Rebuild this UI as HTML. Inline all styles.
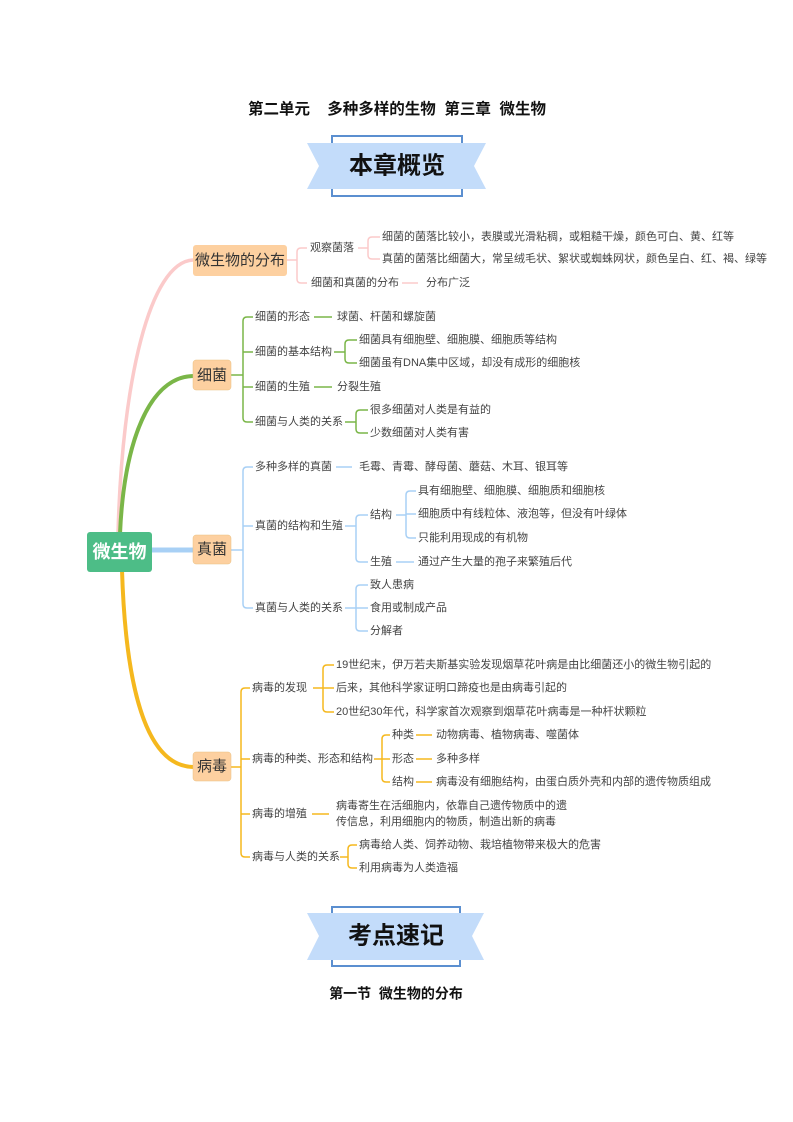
<!DOCTYPE html>
<html><head><meta charset="utf-8"><style>
html,body{margin:0;padding:0;background:#fff;}
svg{display:block;}
text{font-family:"Liberation Sans","Noto Sans CJK SC",sans-serif;white-space:pre;}
.t{font-size:11px;fill:#444;dominant-baseline:middle;}
.n{font-size:15px;fill:#333;dominant-baseline:middle;text-anchor:middle;}
</style></head><body>
<svg width="793" height="1122" viewBox="0 0 793 1122" xmlns="http://www.w3.org/2000/svg" xml:space="preserve">
<text x="397" y="110" text-anchor="middle" dominant-baseline="middle" style="font-size:15.5px;font-weight:bold;fill:#111">第二单元    多种多样的生物  第三章  微生物</text>
<!-- banner 1 -->
<rect x="332" y="136" width="130" height="60" fill="#fff" stroke="#5b8fd0" stroke-width="2"/>
<polygon points="307,143 486,143 474,166 486,189 307,189 319,166" fill="#c3dcfa"/>
<text x="397" y="167" text-anchor="middle" dominant-baseline="middle" style="font-size:24px;font-weight:bold;fill:#111">本章概览</text>
<!-- banner 2 -->
<rect x="332" y="907" width="128" height="59" fill="#fff" stroke="#5b8fd0" stroke-width="2"/>
<polygon points="307,913 484,913 472,936 484,960 307,960 319,936" fill="#c3dcfa"/>
<text x="396" y="937" text-anchor="middle" dominant-baseline="middle" style="font-size:24px;font-weight:bold;fill:#111">考点速记</text>
<text x="396" y="995" text-anchor="middle" dominant-baseline="middle" style="font-size:14px;font-weight:bold;fill:#111">第一节  微生物的分布</text>

<!-- root curves -->
<g fill="none">
<path d="M118 534 C122 380 150 262 193 260" stroke="#fbcaca" stroke-width="3.5"/>
<path d="M120 534 C124 440 150 377 193 376" stroke="#7ab648" stroke-width="4"/>
<path d="M150 550 H194" stroke="#a8d0f5" stroke-width="5"/>
<path d="M122 570 C126 700 150 766 193 767" stroke="#f5b81e" stroke-width="4"/>
</g>
<!-- root -->
<rect x="87" y="532" width="65" height="40" rx="3" fill="#4dbd87"/>
<text x="119.5" y="553" text-anchor="middle" dominant-baseline="middle" style="font-size:18px;font-weight:bold;fill:#fff">微生物</text>

<!-- pink group -->
<g fill="none" stroke="#fbcaca" stroke-width="1.5">
<path d="M287 260 H297 M297 260 V252 Q297 248 301 248 H307 M297 260 V279 Q297 283 301 283 H307"/>
<path d="M358 248 H368 M368 248 V241 Q368 237 372 237 H380 M368 248 V255 Q368 259 372 259 H380"/>
<path d="M402 283 H418"/>
</g>
<rect x="193" y="245" width="94" height="31" rx="3" fill="#fdd0a0"/>
<text class="n" x="240" y="261">微生物的分布</text>
<text class="t" x="310" y="248">观察菌落</text>
<text class="t" x="382" y="237">细菌的菌落比较小，表膜或光滑粘稠，或粗糙干燥，颜色可白、黄、红等</text>
<text class="t" x="382" y="259">真菌的菌落比细菌大，常呈绒毛状、絮状或蜘蛛网状，颜色呈白、红、褐、绿等</text>
<text class="t" x="311" y="283">细菌和真菌的分布</text>
<text class="t" x="426" y="283">分布广泛</text>

<!-- green group -->
<g fill="none" stroke="#7ab648" stroke-width="1.5">
<path d="M231 375 H243 M243 375 V321 Q243 317 247 317 H253 M243 375 V418 Q243 422 247 422 H253 M243 352 H253 M243 387 H253"/>
<path d="M314 317 H332 M314 387 H332"/>
<path d="M334 352 H345 M345 352 V344 Q345 340 349 340 H357 M345 352 V359 Q345 363 349 363 H357"/>
<path d="M345 422 H356 M356 422 V414 Q356 410 360 410 H368 M356 422 V429 Q356 433 360 433 H368"/>
</g>
<rect x="193" y="360" width="38" height="30" rx="3" fill="#fdd0a0" stroke="#e8c080" stroke-width="0.5"/>
<text class="n" x="212" y="376">细菌</text>
<text class="t" x="255" y="317">细菌的形态</text>
<text class="t" x="337" y="317">球菌、杆菌和螺旋菌</text>
<text class="t" x="255" y="352">细菌的基本结构</text>
<text class="t" x="359" y="340">细菌具有细胞壁、细胞膜、细胞质等结构</text>
<text class="t" x="359" y="363">细菌虽有DNA集中区域，却没有成形的细胞核</text>
<text class="t" x="255" y="387">细菌的生殖</text>
<text class="t" x="337" y="387">分裂生殖</text>
<text class="t" x="255" y="422">细菌与人类的关系</text>
<text class="t" x="370" y="410">很多细菌对人类是有益的</text>
<text class="t" x="370" y="433">少数细菌对人类有害</text>

<!-- blue group -->
<g fill="none" stroke="#a8d0f5" stroke-width="1.5">
<path d="M231 550 H243 M243 550 V471 Q243 467 247 467 H253 M243 550 V604 Q243 608 247 608 H253 M243 526 H253"/>
<path d="M336 467 H352"/>
<path d="M345 526 H356 M356 526 V519 Q356 515 360 515 H368 M356 526 V558 Q356 562 360 562 H368"/>
<path d="M396 515 H406 M406 515 V495 Q406 491 410 491 H416 M406 515 V534 Q406 538 410 538 H416 M406 514 H416"/>
<path d="M396 562 H414"/>
<path d="M345 608 H356 M356 608 V589 Q356 585 360 585 H368 M356 608 V627 Q356 631 360 631 H368 M356 608 H368"/>
</g>
<rect x="193" y="535" width="38" height="29" rx="3" fill="#fdd0a0" stroke="#e8c080" stroke-width="0.5"/>
<text class="n" x="212" y="550">真菌</text>
<text class="t" x="255" y="467">多种多样的真菌</text>
<text class="t" x="359" y="467">毛霉、青霉、酵母菌、蘑菇、木耳、银耳等</text>
<text class="t" x="255" y="526">真菌的结构和生殖</text>
<text class="t" x="370" y="515">结构</text>
<text class="t" x="418" y="491">具有细胞壁、细胞膜、细胞质和细胞核</text>
<text class="t" x="418" y="514">细胞质中有线粒体、液泡等，但没有叶绿体</text>
<text class="t" x="418" y="538">只能利用现成的有机物</text>
<text class="t" x="370" y="562">生殖</text>
<text class="t" x="418" y="562">通过产生大量的孢子来繁殖后代</text>
<text class="t" x="255" y="608">真菌与人类的关系</text>
<text class="t" x="370" y="585">致人患病</text>
<text class="t" x="370" y="608">食用或制成产品</text>
<text class="t" x="370" y="631">分解者</text>

<!-- yellow group -->
<g fill="none" stroke="#f5b81e" stroke-width="1.5">
<path d="M231 767 H241 M241 767 V692 Q241 688 245 688 H250 M241 767 V853 Q241 857 245 857 H250 M241 759 H250 M241 814 H250"/>
<path d="M313 688 H323 M323 688 V669 Q323 665 327 665 H334 M323 688 V708 Q323 712 327 712 H334 M323 688 H334"/>
<path d="M374 759 H382 M382 759 V739 Q382 735 386 735 H390 M382 759 V778 Q382 782 386 782 H390 M382 759 H390"/>
<path d="M416 735 H432 M416 759 H432 M416 782 H432"/>
<path d="M312 814 H329"/>
<path d="M340 857 H348 M348 857 V849 Q348 845 352 845 H357 M348 857 V864 Q348 868 352 868 H357"/>
</g>
<rect x="193" y="752" width="38" height="29" rx="3" fill="#fdd0a0" stroke="#e8c080" stroke-width="0.5"/>
<text class="n" x="212" y="767">病毒</text>
<text class="t" x="252" y="688">病毒的发现</text>
<text class="t" x="336" y="665">19世纪末，伊万若夫斯基实验发现烟草花叶病是由比细菌还小的微生物引起的</text>
<text class="t" x="336" y="688">后来，其他科学家证明口蹄疫也是由病毒引起的</text>
<text class="t" x="336" y="712">20世纪30年代，科学家首次观察到烟草花叶病毒是一种杆状颗粒</text>
<text class="t" x="252" y="759">病毒的种类、形态和结构</text>
<text class="t" x="392" y="735">种类</text>
<text class="t" x="436" y="735">动物病毒、植物病毒、噬菌体</text>
<text class="t" x="392" y="759">形态</text>
<text class="t" x="436" y="759">多种多样</text>
<text class="t" x="392" y="782">结构</text>
<text class="t" x="436" y="782">病毒没有细胞结构，由蛋白质外壳和内部的遗传物质组成</text>
<text class="t" x="252" y="814">病毒的增殖</text>
<text class="t" x="336" y="806">病毒寄生在活细胞内，依靠自己遗传物质中的遗</text>
<text class="t" x="336" y="822">传信息，利用细胞内的物质，制造出新的病毒</text>
<text class="t" x="252" y="857">病毒与人类的关系</text>
<text class="t" x="359" y="845">病毒给人类、饲养动物、栽培植物带来极大的危害</text>
<text class="t" x="359" y="868">利用病毒为人类造福</text>
</svg>
</body></html>
